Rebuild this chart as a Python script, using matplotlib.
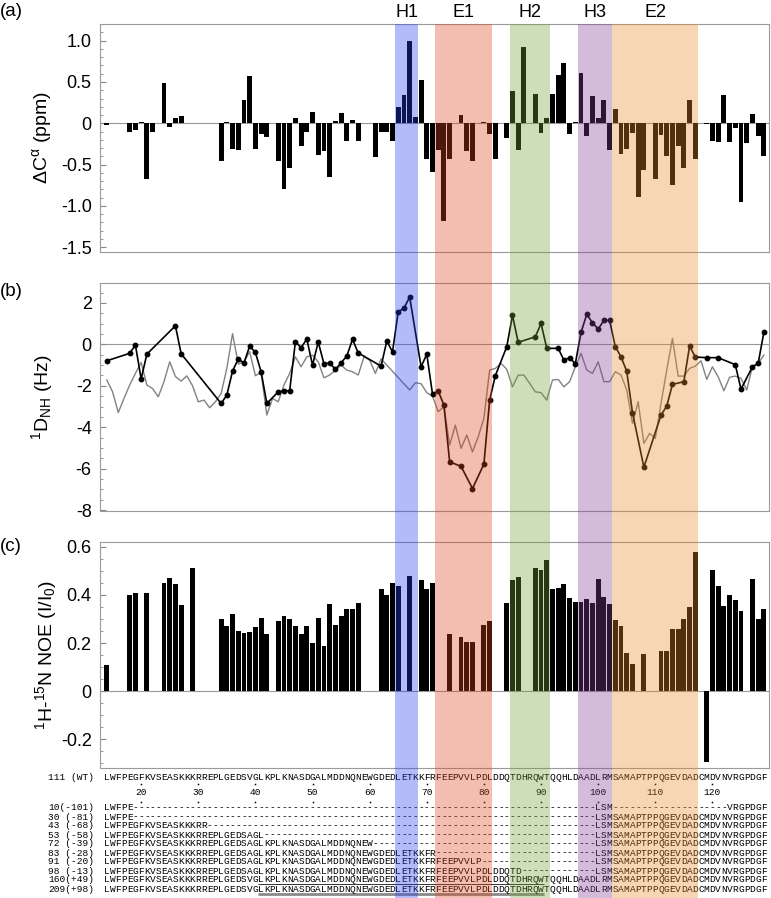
import matplotlib
matplotlib.use("Agg")
import matplotlib.pyplot as plt
import matplotlib.transforms as mtransforms
from matplotlib.ticker import MultipleLocator

plt.rcParams['font.family'] = ['Liberation Sans', 'DejaVu Sans']
plt.rcParams['axes.unicode_minus'] = False
plt.rcParams['mathtext.fontset'] = 'custom'
plt.rcParams['mathtext.rm'] = 'Liberation Sans'
plt.rcParams['mathtext.it'] = 'Liberation Sans:italic'

# secondary structure regions (residue numbers)
band_names = ['H1', 'E1', 'H2', 'H3', 'E2']
band_start = [65, 72, 85, 97, 103]
band_end = [68, 81, 91, 102, 117]

# (a) secondary chemical shift, delta C-alpha (ppm)
ca_res = [14, 18, 19, 20, 21, 22, 24, 25, 26, 27, 34, 35, 36, 37, 38, 39, 40, 41, 42,
          44, 45, 46, 47, 48, 49, 50, 51, 52, 53, 54, 55, 56, 57, 58, 61, 62, 63, 64,
          65, 66, 67, 68, 69, 70, 71, 72, 73, 74, 76, 77, 78, 80, 81, 82, 84, 85, 86,
          87, 89, 90, 91, 92, 93, 94, 95, 96, 97, 98, 99, 100, 101, 102, 103, 104, 105,
          106, 107, 108, 110, 111, 112, 113, 114, 115, 116, 117, 119, 120, 121, 122,
          123, 124, 125, 126, 127, 128, 129]
ca_val = [-0.02, -0.10, -0.08, 0.01, -0.68, -0.11, 0.49, -0.05, 0.06, 0.09, -0.46, 0.02,
          -0.31, -0.32, 0.28, 0.57, -0.31, -0.13, -0.17, -0.46, -0.80, -0.54, 0.07, -0.27,
          -0.11, 0.14, -0.38, -0.34, -0.65, 0.03, 0.12, -0.21, 0.04, -0.21, -0.41, -0.10,
          -0.10, -0.21, 0.20, 0.34, 1.00, 0.08, 0.53, -0.43, -0.59, -0.32, -1.18, -0.43,
          0.10, -0.33, -0.46, 0.01, -0.13, -0.43, -0.18, 0.39, -0.32, 0.92, 0.36, -0.12,
          0.06, 0.36, 0.58, 0.73, -0.13, 0.01, 0.61, -0.15, 0.33, 0.06, 0.28, -0.32, 0.17,
          -0.37, -0.31, -0.12, -0.89, -0.56, -0.67, -0.14, -0.40, -0.75, -0.28, -0.54,
          0.28, -0.43, -0.01, -0.21, -0.23, 0.34, -0.23, -0.06, -0.95, -0.24, 0.11,
          -0.15, -0.40]

# (b) measured 1D_NH residual dipolar couplings (Hz)
rdc_res = [14, 18, 19, 20, 21, 26, 27, 34, 35, 36, 37, 38, 39, 40, 41, 42, 44, 45, 46,
           47, 48, 49, 50, 51, 52, 53, 54, 55, 56, 57, 58, 62, 63, 64, 65, 66, 67, 69,
           70, 71, 72, 73, 74, 76, 78, 80, 81, 82, 84, 85, 86, 89, 90, 91, 93, 94, 95,
           96, 97, 98, 99, 100, 101, 102, 103, 104, 105, 106, 108, 111, 112, 113, 115,
           116, 117, 119, 121, 124, 125, 127, 128, 129]
rdc_val = [-0.79, -0.43, -0.03, -1.67, -0.47, 0.90, -0.45, -2.85, -2.45, -1.29, -0.70,
           -0.90, -0.08, -0.39, -1.32, -2.85, -2.29, -2.24, -2.24, 0.13, -0.16, 0.26,
           -1.00, 0.12, -0.94, -0.89, -1.21, -0.89, -0.56, 0.24, -0.41, -1.05, 0.16,
           -0.36, 1.58, 1.74, 2.29, -1.08, -0.47, -2.40, -2.25, -2.93, -5.67, -5.89,
           -6.96, -5.78, -2.69, -1.51, -0.11, 1.40, 0.10, 0.37, 1.01, -0.19, -0.19,
           -0.76, -0.64, -0.93, 0.58, 1.45, 1.05, 0.74, 1.16, 1.16, -0.11, -0.60, -1.30,
           -3.29, -5.93, -3.41, -2.98, -1.93, -1.80, -0.08, -0.61, -0.64, -0.64, -0.98,
           -2.16, -1.08, -0.92, 0.58]

# (b) predicted couplings, residues 14..129
pred_res = list(range(14, 130))
pred_val = [-1.72, -2.29, -3.29, -2.61, -1.96, -1.40, -0.87, -1.96, -2.13, -2.53,
            -1.80, -0.84, -1.55, -1.77, -1.52, -2.00, -2.77, -2.69, -3.06, -2.77,
            -2.37, -1.16, 0.52, -0.95, -0.84, -0.35, -1.51, -1.35, -3.41, -2.61,
            -2.77, -1.96, -1.40, -0.60, -1.08, -0.60, -0.52, -0.84, -1.61, -1.48,
            -1.24, -1.00, -1.24, -1.32, -1.48, -0.60, -0.76, -1.40, -0.70, -1.00,
            -1.30, -1.60, -1.90, -2.20, -1.85, -1.90, -2.33, -2.50, -3.25, -3.00,
            -4.86, -3.90, -5.02, -4.38, -5.19, -4.46, -3.57, -1.24, -1.16, -0.92,
            -1.20, -2.05, -1.48, -1.48, -1.88, -2.29, -2.33, -2.69, -1.72, -1.69,
            -2.05, -1.80, -1.08, -0.43, -1.24, -1.40, -0.84, -1.80, -1.80, -1.32,
            -1.48, -2.20, -3.82, -2.77, -4.78, -4.30, -4.54, -2.85, -1.24, 0.29,
            -1.53, -1.53, -1.16, -1.05, -0.79, -1.69, -1.08, -1.56, -2.24, -1.59,
            -1.53, -1.64, -2.20, -1.08, -0.92, -0.52]

# (c) heteronuclear NOE (I/I0)
noe_res = [14, 18, 19, 21, 24, 25, 26, 27, 29, 34, 35, 36, 37, 38, 39, 40, 41, 42, 44,
           45, 46, 47, 48, 49, 50, 51, 52, 53, 54, 55, 56, 57, 58, 62, 63, 64, 65, 67,
           69, 70, 71, 74, 76, 77, 78, 80, 81, 84, 85, 86, 89, 90, 91, 92, 93, 94, 95,
           96, 97, 98, 99, 100, 101, 102, 103, 104, 105, 106, 108, 111, 112, 113, 114,
           115, 116, 117, 119, 120, 121, 122, 123, 124, 125, 127, 128, 129]
noe_val = [0.109, 0.40, 0.41, 0.41, 0.45, 0.47, 0.445, 0.36, 0.51, 0.30, 0.27, 0.32,
           0.25, 0.24, 0.245, 0.265, 0.305, 0.237, 0.29, 0.313, 0.30, 0.273, 0.237,
           0.27, 0.20, 0.305, 0.188, 0.364, 0.276, 0.314, 0.34, 0.342, 0.368, 0.426,
           0.40, 0.45, 0.436, 0.48, 0.46, 0.426, 0.45, 0.236, 0.226, 0.205, 0.205,
           0.276, 0.29, 0.368, 0.46, 0.475, 0.513, 0.502, 0.546, 0.426, 0.43, 0.444,
           0.388, 0.371, 0.371, 0.385, 0.367, 0.468, 0.392, 0.364, 0.295, 0.273, 0.16,
           0.113, 0.153, 0.168, 0.168, 0.26, 0.26, 0.302, 0.35, 0.578, -0.295, 0.502,
           0.436, 0.356, 0.40, 0.38, 0.332, 0.465, 0.30, 0.343]

# sequence alignment (first residue = 14)
first_res = 14
wt_seq = ("LWFPEGFKVSEASKKKRREPLGEDSVGLKPLKNASDGALMDDNQNEWGDEDLETKKFRFEEPVVLPDL"
          "DDQTDHRQWTQQHLDAADLRMSAMAPTPPQGEVDADCMDVNVRGPDGF")
tail = "LSMSAMAPTPPQGEVDADCMDVNVRGPDGF"
n53 = "LWFPEGFKVSEASKKKRREPLGEDSAGL"
n72 = n53 + "KPLKNASDGALMDDNQNEW"
n83 = n72 + "GDEDLETKKFR"
n91 = n83 + "FEEPVVLP"
n98 = n91 + "DLDDQTD"
construct_labels = ['10(-101)', '30 (-81)', '43 (-68)', '53 (-58)', '72 (-39)',
                    '83 (-28)', '91 (-20)', '98 (-13)', '160(+49)', '209(+98)']
construct_parts = [
    [(14, "LWFPE"), (100, "LSM"), (123, "VRGPDGF")],
    [(14, "LWFPE"), (100, tail)],
    [(14, "LWFPEGFKVSEASKKKRR"), (100, tail)],
    [(14, n53), (100, tail)],
    [(14, n72), (100, tail)],
    [(14, n83), (100, tail)],
    [(14, n91), (100, tail)],
    [(14, n98), (100, tail)],
    [(14, wt_seq)],
    [(14, wt_seq)],
]
seq_ticks = [20, 30, 40, 50, 60, 70, 80, 90, 100, 110, 120]

W, H = 771, 898
band_colors = ['#2940eb', '#de451a', '#70a136', '#804096', '#e88a29']
XL = (12.8, 129.9)
L, R = 100, 769


def px_axes(fig, top, bottom):
    return fig.add_axes([L / W, 1 - bottom / H, (R - L) / W, (bottom - top) / H])


def style_axes(ax):
    ax.set_xlim(*XL)
    for s in ax.spines.values():
        s.set_color('#9a9a9a')
        s.set_linewidth(0.8)
    ax.tick_params(axis='x', bottom=False, labelbottom=False)
    ax.tick_params(axis='y', which='major', direction='in', length=4, width=0.8,
                   color='#888888', labelsize=13, pad=6)
    ax.tick_params(axis='y', which='minor', direction='in', length=2.5, width=0.6,
                   color='#888888')
    ax.axhline(0, color='#999999', lw=0.8, zorder=1)


def build_row(parts):
    row = ['-'] * len(wt_seq)
    for start, s in parts:
        for i, ch in enumerate(s):
            row[start - first_res + i] = ch
    return ''.join(row)


fig = plt.figure(figsize=(W / 100, H / 100), dpi=100)

# (a)
ax_a = px_axes(fig, 24, 251.7)
style_axes(ax_a)
ax_a.bar(ca_res, ca_val, width=0.85, color='black', lw=0, zorder=2)
ax_a.set_ylim(-1.554, 1.202)
ax_a.set_yticks([1.0, 0.5, 0, -0.5, -1.0, -1.5])
ax_a.set_yticklabels(['1.0', '0.5', '0', '-0.5', '-1.0', '-1.5'])
ax_a.yaxis.set_minor_locator(MultipleLocator(0.1))

# (b)
ax_b = px_axes(fig, 282.7, 510.7)
style_axes(ax_b)
ax_b.plot(pred_res, pred_val, color='#828282', lw=1.0, zorder=2)
ax_b.plot(rdc_res, rdc_val, '-o', color='black', lw=1.2, ms=3.2, zorder=3)
ax_b.set_ylim(-8.03, 2.98)
ax_b.set_yticks([2, 0, -2, -4, -6, -8])
ax_b.set_yticklabels(['2', '0', '-2', '-4', '-6', '-8'])
ax_b.yaxis.set_minor_locator(MultipleLocator(0.5))

# (c)
ax_c = px_axes(fig, 541.7, 768.3)
style_axes(ax_c)
ax_c.bar(noe_res, noe_val, width=0.85, color='black', lw=0, zorder=2)
ax_c.set_ylim(-0.32, 0.621)
ax_c.set_yticks([0.6, 0.4, 0.2, 0, -0.2])
ax_c.set_yticklabels(['0.6', '0.4', '0.2', '0', '-0.2'])
ax_c.yaxis.set_minor_locator(MultipleLocator(0.05))

# labels
fig.text(0.0, 1 - 12 / H, '(a)', fontsize=13.5, va='center', ha='left')
fig.text(0.0, 1 - 292 / H, '(b)', fontsize=13.5, va='center', ha='left')
fig.text(0.0, 1 - 546.5 / H, '(c)', fontsize=13.5, va='center', ha='left')
fig.text(42 / W, 1 - 138 / H, 'ΔC$\\mathregular{^α}$ (ppm)', rotation=90,
         fontsize=14, ha='center', va='center')
fig.text(42 / W, 1 - 397 / H, '$\\mathregular{^1D_{NH}}$ (Hz)', rotation=90,
         fontsize=14, ha='center', va='center')
fig.text(46 / W, 1 - 655 / H,
         '$\\mathregular{^1}$H-$\\mathregular{^{15}}$N NOE (I/I$\\mathregular{_0}$)',
         rotation=90, fontsize=14, ha='center', va='center')

# sequence alignment
seq_ax = fig.add_axes([L / W, 0, (R - L) / W, 1 - 768.3 / H])
seq_ax.set_xlim(*XL)
seq_ax.set_ylim(H, 768.3)
seq_ax.set_axis_off()
mono_family = ['Liberation Mono', 'DejaVu Sans Mono']
mono = dict(family=mono_family, fontsize=6.8, ha='center', va='center')

wt_y = 777
for i, ch in enumerate(wt_seq):
    seq_ax.text(first_res + i, wt_y, ch, **mono)
fig.text(48 / W, 1 - wt_y / H, '111 (WT)', family=mono_family,
         fontsize=6.8, ha='left', va='center')
# ruler: dots above and below the residue numbers
seq_ax.plot(seq_ticks, [784] * len(seq_ticks), 's', color='black', ms=1.1, mew=0)
seq_ax.plot(seq_ticks, [801.5] * len(seq_ticks), 's', color='black', ms=1.1, mew=0)
for t in seq_ticks:
    seq_ax.text(t, 792.5, str(t), **mono)

row_y0, row_step = 808, 9.0
for k, (lab, parts) in enumerate(zip(construct_labels, construct_parts)):
    y = row_y0 + k * row_step
    row = build_row(parts)
    for i, ch in enumerate(row):
        seq_ax.text(first_res + i, y, ch, **mono)
    fig.text(48 / W, 1 - y / H, lab, family=mono_family, fontsize=6.8,
             ha='left', va='center')
    if lab == '160(+49)':
        seq_ax.plot([40.5, 90.5], [y + 4.2, y + 4.2], color='#333333', lw=0.7,
                    solid_capstyle='butt')
    if lab == '209(+98)':
        seq_ax.plot([40.5, 90.5], [y + 4.6, y + 4.6], color='#8a8a8a', lw=2.0,
                    solid_capstyle='butt')

# shaded secondary-structure bands drawn over everything
band_ax = fig.add_axes([L / W, 0, (R - L) / W, 1 - 24 / H], zorder=5)
band_ax.set_xlim(*XL)
band_ax.set_axis_off()
band_ax.patch.set_alpha(0)
for s, e, c in zip(band_start, band_end, band_colors):
    band_ax.axvspan(s - 0.5, e + 0.5, color=c, alpha=0.35, lw=0)

trans = mtransforms.blended_transform_factory(ax_a.transData, fig.transFigure)
for name, s, e in zip(band_names, band_start, band_end):
    fig.text((s + e) / 2, 1 - 12.5 / H, name, transform=trans, fontsize=13,
             ha='center', va='center')

fig.savefig('out.png', dpi=100)
